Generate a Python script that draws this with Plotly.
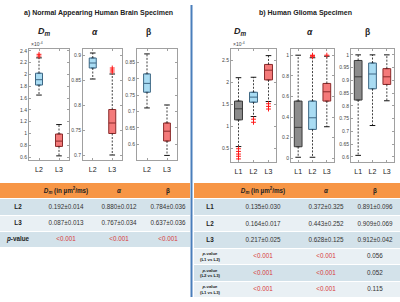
import plotly.graph_objects as go

W, H = 400, 302

# ---------------- data ----------------
groups_a = ["L2", "L3"]
groups_b = ["L1", "L2", "L3"]

# a) Normal appearing human brain specimen
a_dm_lw = [1.65, 0.62]
a_dm_q1 = [1.82, 0.78]
a_dm_med = [1.91, 0.87]
a_dm_q3 = [2.02, 0.99]
a_dm_uw = [2.28, 1.15]
a_dm_out = [[2.31, 2.34], []]

a_al_lw = [0.852, 0.700]
a_al_q1 = [0.874, 0.743]
a_al_med = [0.884, 0.764]
a_al_q3 = [0.894, 0.791]
a_al_uw = [0.904, 0.862]
a_al_out = [[], [0.866, 0.870, 0.874]]

a_be_lw = [0.711, 0.566]
a_be_q1 = [0.759, 0.610]
a_be_med = [0.786, 0.640]
a_be_q3 = [0.815, 0.665]
a_be_uw = [0.876, 0.720]
a_be_out = [[], []]

# b) Human glioma specimen
b_dm_lw = [0.54, 1.22, 1.56]
b_dm_q1 = [1.145, 1.545, 2.05]
b_dm_med = [1.395, 1.66, 2.27]
b_dm_q3 = [1.57, 1.77, 2.40]
b_dm_uw = [2.10, 2.11, 2.60]
b_dm_out = [[0.49, 0.43, 0.37, 0.32, 0.26], [1.16, 1.09], [1.51, 1.45, 1.39]]

b_al_lw = [0.01, 0.01, 0.306]
b_al_q1 = [0.112, 0.28, 0.555]
b_al_med = [0.30, 0.393, 0.645]
b_al_q3 = [0.555, 0.555, 0.726]
b_al_uw = [1.0, 0.975, 0.99]
b_al_out = [[], [0.985, 0.995, 1.0], [1.0]]

b_be_lw = [0.606, 0.723, 0.82]
b_be_q1 = [0.823, 0.867, 0.884]
b_be_med = [0.914, 0.925, 0.914]
b_be_q3 = [0.978, 0.968, 0.946]
b_be_uw = [1.0, 1.0, 1.0]
b_be_out = [[], [], []]

# tables
tab_a_rows = ["<b>L2</b>", "<b>L3</b>", "<b><i>p</i>-value</b>"]
tab_a_dm = ["0.192±0.014", "0.087±0.013", "<0.001"]
tab_a_al = ["0.880±0.012", "0.767±0.034", "<0.001"]
tab_a_be = ["0.784±0.036", "0.637±0.036", "<0.001"]

tab_b_rows = ["<b>L1</b>", "<b>L2</b>", "<b>L3</b>",
              "<b><i>p</i>-value<br>(L1 vs L2)</b>",
              "<b><i>p</i>-value<br>(L2 vs L3)</b>",
              "<b><i>p</i>-value<br>(L1 vs L3)</b>"]
tab_b_dm = ["0.135±0.030", "0.164±0.017", "0.217±0.025", "<0.001", "<0.001", "<0.001"]
tab_b_al = ["0.372±0.325", "0.443±0.252", "0.628±0.125", "<0.001", "<0.001", "<0.001"]
tab_b_be = ["0.891±0.096", "0.909±0.069", "0.912±0.042", "0.056", "0.052", "0.115"]

header_cols = ["<b><i>D<sub>m</sub></i> (in µm<sup>2</sup>/ms)</b>", "<b><i>α</i></b>", "<b>β</b>"]

# ---------------- styles ----------------
FONT = "Liberation Sans"
BLUE_F, BLUE_L = "#a9dcf3", "#3d6784"
RED_F, RED_L = "#f47a7a", "#8a2b2b"
GRAY_F, GRAY_L = "#8c8c8c", "#3a3a3a"
colors_a = [(BLUE_F, BLUE_L), (RED_F, RED_L)]
colors_b = [(GRAY_F, GRAY_L), (BLUE_F, BLUE_L), (RED_F, RED_L)]
ORANGE = "#f79646"
ROW_DARK = "#d3e2ea"
ROW_LIGHT = "#e9f0f4"
PRED = "#d83a3a"


def px_x(x0, x1):
    return [x0 / W, x1 / W]


def px_y(y0, y1):
    return [1 - y1 / H, 1 - y0 / H]


fig = go.Figure()

subplots = [
    # (groups, colors, lw, q1, med, q3, uw, out, xdom, ydom, yrange, dtick, boxw)
    (groups_a, colors_a, a_dm_lw, a_dm_q1, a_dm_med, a_dm_q3, a_dm_uw, a_dm_out,
     (29, 69), (49, 160), [0.55, 2.43], 0.2, 0.35),
    (groups_a, colors_a, a_al_lw, a_al_q1, a_al_med, a_al_q3, a_al_uw, a_al_out,
     (83, 122), (49, 160), [0.69, 0.912], 0.05, 0.36),
    (groups_a, colors_a, a_be_lw, a_be_q1, a_be_med, a_be_q3, a_be_uw, a_be_out,
     (137, 177), (49, 160), [0.552, 0.891], 0.05, 0.34),
    (groups_b, colors_b, b_dm_lw, b_dm_q1, b_dm_med, b_dm_q3, b_dm_uw, b_dm_out,
     (231, 276), (49, 162), [0.19, 2.75], 0.5, 0.53),
    (groups_b, colors_b, b_al_lw, b_al_q1, b_al_med, b_al_q3, b_al_uw, b_al_out,
     (291, 334), (49, 162), [-0.036, 1.06], 0.2, 0.54),
    (groups_b, colors_b, b_be_lw, b_be_q1, b_be_med, b_be_q3, b_be_uw, b_be_out,
     (351, 394), (49, 162), [0.58, 1.023], 0.05, 0.54),
]

layout_axes = {}
for i, (grp, cols, lw, q1, med, q3, uw, out, xd, yd, yr, dt, bw) in enumerate(subplots):
    n = i + 1
    xa = "x" if n == 1 else f"x{n}"
    ya = "y" if n == 1 else f"y{n}"
    for g, c, a, b, m, d, e in zip(grp, cols, lw, q1, med, q3, uw):
        fig.add_trace(go.Box(
            x=[g], q1=[b], median=[m], q3=[d], lowerfence=[b], upperfence=[d],
            fillcolor=c[0], line=dict(color=c[1], width=1), width=bw,
            boxpoints=False, xaxis=xa, yaxis=ya, showlegend=False, hoverinfo="skip"))
    # dashed whiskers
    wx, wy = [], []
    for g, a, b, d, e in zip(grp, lw, q1, q3, uw):
        wx += [g, g, None, g, g, None]
        wy += [d, e, None, b, a, None]
    fig.add_trace(go.Scatter(x=wx, y=wy, mode="lines",
                             line=dict(color="#111", width=0.8, dash="2px,1.5px"),
                             xaxis=xa, yaxis=ya, showlegend=False, hoverinfo="skip"))
    # caps
    cx, cy = [], []
    for g, a, e in zip(grp, lw, uw):
        cx += [g, g]
        cy += [a, e]
    fig.add_trace(go.Scatter(x=cx, y=cy, mode="markers",
                             marker=dict(symbol="line-ew", size=4,
                                         line=dict(color="#111", width=1)),
                             xaxis=xa, yaxis=ya, showlegend=False, hoverinfo="skip"))
    # outliers
    ox, oy = [], []
    for g, o in zip(grp, out):
        ox += [g] * len(o)
        oy += o
    if ox:
        fig.add_trace(go.Scatter(x=ox, y=oy, mode="markers",
                                 marker=dict(symbol="cross-thin", size=3.5,
                                             line=dict(color="#ff1a1a", width=1)),
                                 xaxis=xa, yaxis=ya, showlegend=False, hoverinfo="skip"))
    xkey = "xaxis" if n == 1 else f"xaxis{n}"
    ykey = "yaxis" if n == 1 else f"yaxis{n}"
    layout_axes[xkey] = dict(
        domain=px_x(*xd), anchor=ya, type="category", categoryorder="array",
        categoryarray=grp, range=[-0.5, len(grp) - 0.5],
        showline=True, linecolor="#a0a0a0", linewidth=1, mirror="ticks",
        ticks="inside", ticklen=2, tickcolor="#a0a0a0", ticklabelstandoff=3,
        tickfont=dict(family=FONT, size=7, color="#222"), showgrid=False,
        zeroline=False, fixedrange=True)
    layout_axes[ykey] = dict(
        domain=px_y(*yd), anchor=xa, range=yr, dtick=dt, tick0=0,
        showline=True, linecolor="#a0a0a0", linewidth=1, mirror="ticks",
        ticks="inside", ticklen=2, tickcolor="#a0a0a0",
        tickfont=dict(family=FONT, size=5, color="#444"), showgrid=False,
        zeroline=False, fixedrange=True)

# ---------------- tables ----------------
tables = [
    # (rows, cols, xdom px, ydom px, column centre px, label size)
    (tab_a_rows, [tab_a_dm, tab_a_al, tab_a_be], (0, 190), (183, 248), [18, 66, 119, 168], 6.3),
    (tab_b_rows, [tab_b_dm, tab_b_al, tab_b_be], (194, 400), (183, 298), [210, 263, 326, 375], 6.3),
]
for k, (rows, colvals, xd, yd, centers, lsize) in enumerate(tables):
    n = 7 + k
    xa, ya = f"x{n}", f"y{n}"
    nrows = len(rows) + 1
    zvals = [[2]] + [[1 if r % 2 == 0 else 0] for r in range(len(rows))]
    fig.add_trace(go.Heatmap(
        z=zvals, x0=0.5, dx=1, y0=0, dy=1, zmin=0, zmax=2,
        colorscale=[[0, ROW_LIGHT], [0.5, ROW_DARK], [1, ORANGE]],
        showscale=False, ygap=1, xaxis=xa, yaxis=ya, hoverinfo="skip"))
    fx = [(c - xd[0]) / (xd[1] - xd[0]) for c in centers]
    # header texts
    fig.add_trace(go.Scatter(
        x=fx[1:], y=[0] * 3, mode="text", text=header_cols,
        textfont=dict(family=FONT, size=6.3, color="#222"),
        xaxis=xa, yaxis=ya, showlegend=False, hoverinfo="skip"))
    # row labels
    lab_sizes = [lsize if "<br>" not in r else 4.3 for r in rows]
    fig.add_trace(go.Scatter(
        x=[fx[0]] * len(rows), y=list(range(1, nrows)), mode="text", text=rows,
        textfont=dict(family=FONT, size=lab_sizes, color="#222"),
        xaxis=xa, yaxis=ya, showlegend=False, hoverinfo="skip"))
    for ci, vals in enumerate(colvals):
        fig.add_trace(go.Scatter(
            x=[fx[ci + 1]] * len(vals), y=list(range(1, nrows)), mode="text",
            text=vals,
            textfont=dict(family=FONT, size=6.3,
                          color=[PRED if v.startswith("<") else "#333" for v in vals]),
            xaxis=xa, yaxis=ya, showlegend=False, hoverinfo="skip"))
    layout_axes[f"xaxis{n}"] = dict(domain=px_x(*xd), anchor=ya, range=[0, 1],
                                    visible=False, fixedrange=True)
    layout_axes[f"yaxis{n}"] = dict(domain=px_y(*yd), anchor=xa,
                                    range=[nrows - 0.5, -0.5], visible=False,
                                    fixedrange=True)

# ---------------- annotations ----------------
def ann(x, y, text, size, **kw):
    d = dict(x=x / W, y=1 - y / H, xref="paper", yref="paper", text=text,
             showarrow=False, font=dict(family=FONT, size=size, color="#222"),
             xanchor="center", yanchor="middle")
    d.update(kw)
    return d


annotations = [
    ann(98, 13, "<b>a) Normal Appearing Human Brain Specimen</b>", 7),
    ann(305, 13, "<b>b) Human Glioma Specimen</b>", 7),
    ann(44, 32, "<b><i>D<sub>m</sub></i></b>", 9),
    ann(95, 32, "<b><i>α</i></b>", 8.5),
    ann(148, 32, "<b>β</b>", 8.5),
    ann(240, 32, "<b><i>D<sub>m</sub></i></b>", 9),
    ann(310, 32, "<b><i>α</i></b>", 8.5),
    ann(367, 32, "<b>β</b>", 8.5),
    ann(29, 44, "×10<sup>-4</sup>", 5, xanchor="left", font=dict(family=FONT, size=5, color="#444")),
    ann(231, 44, "×10<sup>-4</sup>", 5, xanchor="left", font=dict(family=FONT, size=5, color="#444")),
]

fig.update_layout(
    width=W, height=H, autosize=False,
    margin=dict(l=0, r=0, t=0, b=0),
    paper_bgcolor="white", plot_bgcolor="white",
    boxmode="overlay", showlegend=False,
    annotations=annotations,
    shapes=[dict(type="line", xref="paper", yref="paper",
                 x0=191.5 / W, x1=191.5 / W, y0=1 - 5 / H, y1=1 - 297 / H,
                 line=dict(color="#4a7ebb", width=2))],
    **layout_axes,
)

fig.write_html("out.html", config={"displayModeBar": False},
               post_script="document.body.style.margin='0';document.body.style.overflow='hidden';")
